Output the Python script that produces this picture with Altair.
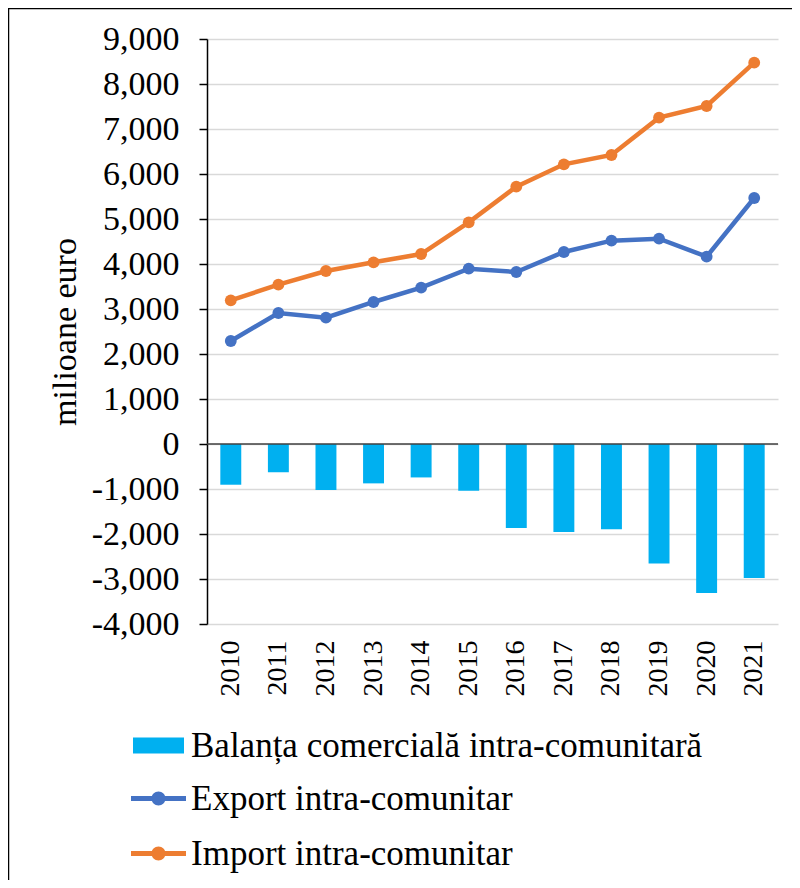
import altair as alt
import pandas as pd

# ---- data (milioane euro) ----
years = [str(y) for y in range(2010, 2022)]
balanta = [-905, -625, -1022, -875, -743, -1037, -1868, -1956, -1897, -2654, -3309, -2978]
export_vals = [2289, 2911, 2807, 3156, 3474, 3896, 3822, 4267, 4519, 4563, 4163, 5467]
import_vals = [3193, 3541, 3844, 4037, 4222, 4926, 5719, 6215, 6422, 7252, 7511, 8474]
y_ticks = list(range(-4000, 9001, 1000))

s_bal = "Balanța comercială intra-comunitară"
s_exp = "Export intra-comunitar"
s_imp = "Import intra-comunitar"

c_bal = "#00B0F0"
c_exp = "#4472C4"
c_imp = "#ED7D31"

bars_df = pd.DataFrame({"an": years, "valoare": balanta, "serie": [s_bal] * len(years)})
lines_df = pd.DataFrame({
    "an": years + years,
    "valoare": export_vals + import_vals,
    "serie": [s_exp] * len(years) + [s_imp] * len(years),
})
zero_df = pd.DataFrame({"valoare": [0]})
frame_df = pd.DataFrame({"k": [0]})

FONT = "Liberation Serif"
W, H = 571, 585

x_enc = alt.X(
    "an:N", sort=years,
    scale=alt.Scale(paddingInner=0.56, paddingOuter=0.28),
    axis=alt.Axis(title=None, labelAngle=270, labelAlign="right", labelBaseline="middle",
                  labelFont=FONT, labelFontSize=28, labelColor="black", labelPadding=16,
                  domain=False, ticks=False, grid=False),
)
y_enc = alt.Y(
    "valoare:Q",
    scale=alt.Scale(domain=[-4000, 9000], nice=False, zero=False),
    axis=alt.Axis(values=y_ticks,
                  labelExpr="replace(format(datum.value, ','), '\u2212', '-')",
                  labelFont=FONT, labelFontSize=34, labelColor="black", labelPadding=20,
                  tickSize=8, tickColor="black", tickWidth=1.5,
                  domainColor="black", domainWidth=1.5,
                  gridColor="#d9d9d9", gridWidth=1.5,
                  title="milioane euro", titleFont=FONT, titleFontSize=34,
                  titleFontWeight="normal", titleColor="black", titleAngle=270,
                  titleX=-132, titleY=H / 2, titleAlign="center", titleBaseline="alphabetic"),
)

bar_symbol = "M-1.7,-0.533H1.7V0.533H-1.7Z"
line_symbol = ("M-1.833,-0.16H1.833V0.16H-1.833Z "
               "M0.467,0A0.467,0.467 0 1,1 -0.467,0A0.467,0.467 0 1,1 0.467,0Z")

def legend(ly, sym):
    return alt.Legend(orient="none", legendX=-66, legendY=ly, title=None,
                      labelFont=FONT, labelFontSize=35, labelColor="black", labelLimit=800,
                      labelOffset=15, symbolType=sym, symbolSize=900, symbolStrokeWidth=0,
                      symbolOpacity=1, padding=0, rowPadding=19)

bars = alt.Chart(bars_df).mark_bar().encode(
    x=x_enc, y=y_enc,
    color=alt.Color("serie:N", scale=alt.Scale(domain=[s_bal], range=[c_bal]),
                    legend=legend(689, bar_symbol)),
)

zero_line = alt.Chart(zero_df).mark_rule(color="#404040", strokeWidth=1.5).encode(y=y_enc)

lines = alt.Chart(lines_df).mark_line(strokeWidth=4.5).encode(
    x=x_enc, y=y_enc,
    color=alt.Color("serie:N", scale=alt.Scale(domain=[s_exp, s_imp], range=[c_exp, c_imp]),
                    legend=None),
)

points = alt.Chart(lines_df).mark_point(filled=True, size=140, opacity=1).encode(
    x=x_enc, y=y_enc,
    color=alt.Color("serie:N", scale=alt.Scale(domain=[s_exp, s_imp], range=[c_exp, c_imp]),
                    legend=legend(742, line_symbol)),
)

frame = alt.Chart(frame_df).mark_rect(filled=False, stroke="black", strokeWidth=1.5).encode(
    x=alt.value(-198.5), x2=alt.value(2000), y=alt.value(-30.5), y2=alt.value(2000)
)

chart = alt.layer(bars, zero_line, lines, points, frame).resolve_scale(
    color="independent"
).properties(
    width=W, height=H,
    autosize=alt.AutoSizeParams(type="none"),
    padding={"left": 199, "top": 31, "right": 14, "bottom": 256},
).configure_view(strokeWidth=0)

chart.save("out.html", embed_options={"renderer": "svg", "actions": False})
